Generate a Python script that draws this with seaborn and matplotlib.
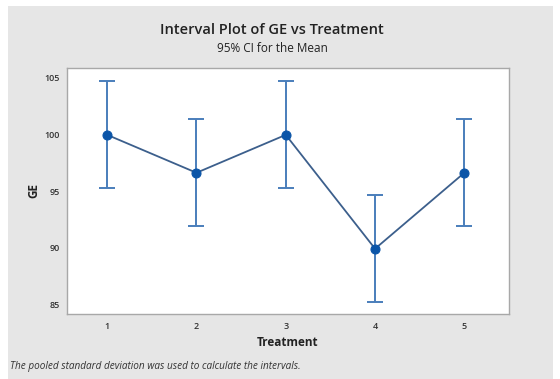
import matplotlib
matplotlib.use("Agg")
import matplotlib.pyplot as plt
import seaborn as sns
import numpy as np
import pandas as pd
from matplotlib.patches import Rectangle

treatment = [1, 2, 3, 4, 5]
ge_mean = [99.93, 96.60, 99.93, 89.93, 96.60]
ci_lower = [95.23, 91.90, 95.23, 85.23, 91.90]
ci_upper = [104.63, 101.30, 104.63, 94.63, 101.30]
yticks = [85, 90, 95, 100, 105]

df = pd.DataFrame({"Treatment": treatment, "GE": ge_mean})

sns.set_style("white")
plt.rcParams['font.family'] = ['Open Sans', 'DejaVu Sans']

fig = plt.figure(figsize=(5.6, 3.79), dpi=100)
fig.patch.set_facecolor("white")
bg = Rectangle((8/560, 0), (553-8)/560, 1 - 6/379,
               transform=fig.transFigure, facecolor="#e6e6e6",
               edgecolor="none", zorder=-10)
fig.add_artist(bg)

ax = fig.add_axes([67/560, 1 - 314/379, (509-67)/560, (314-68)/379])
ax.set_zorder(5)
ax.set_facecolor("white")

lower_err = np.array(ge_mean) - np.array(ci_lower)
upper_err = np.array(ci_upper) - np.array(ge_mean)
ax.errorbar(treatment, ge_mean, yerr=[lower_err, upper_err], fmt="none",
            ecolor="#4a7ebb", elinewidth=1.4, capsize=6, capthick=1.4, zorder=2)
sns.lineplot(data=df, x="Treatment", y="GE", ax=ax, color="#3c5f8c",
             linewidth=1.3, marker="o", markersize=6.5,
             markerfacecolor="#0b55a8", markeredgecolor="#0b55a8", zorder=3)

ax.set_xlim(0.55, 5.5)
ax.set_ylim(84.2, 105.8)
ax.set_xticks(treatment)
ax.set_yticks(yticks)
ax.tick_params(axis="both", labelsize=6.5, colors="#333333", length=3,
               width=0.6, direction="out", color="#888888", pad=2)
ax.tick_params(axis="x", pad=3)
for lab in ax.get_xticklabels() + ax.get_yticklabels():
    lab.set_fontweight("semibold")
for s in ax.spines.values():
    s.set_color("#a8a8a8")
    s.set_linewidth(1.0)

ax.set_xlabel("Treatment", fontsize=8.5, fontweight="bold", color="#222222", labelpad=3)
ax.set_ylabel("GE", fontsize=8.5, fontweight="bold", color="#222222", labelpad=3)

fig.text(272/560, 1 - 30/379, "Interval Plot of GE vs Treatment", ha="center", va="center",
         fontsize=10.5, fontweight="semibold", color="#222222")
fig.text(272/560, 1 - 49/379, "95% CI for the Mean", ha="center", va="center",
         fontsize=8.5, color="#222222")
fig.text(10/560, 1 - 366/379, "The pooled standard deviation was used to calculate the intervals.",
         ha="left", va="center", fontsize=7.2, style="italic", color="#333333")

fig.savefig("out.png", dpi=100, facecolor=fig.get_facecolor())
